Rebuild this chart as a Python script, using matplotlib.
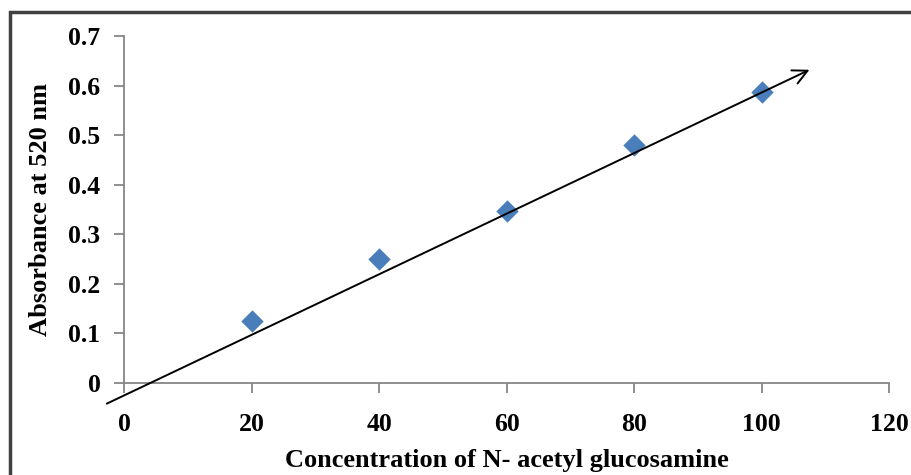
import matplotlib.pyplot as plt
from matplotlib.patches import Rectangle

# N-acetyl glucosamine standard curve
concentration = [20, 40, 60, 80, 100]
absorbance = [0.125, 0.25, 0.346, 0.481, 0.588]

# hand-drawn trend arrow (start, end) in data units
trend_x = [-2.7, 107.5]
trend_y = [-0.042, 0.632]

x_ticks = [0, 20, 40, 60, 80, 100, 120]
y_ticks = [0, 0.1, 0.2, 0.3, 0.4, 0.5, 0.6, 0.7]
y_tick_labels = ["0", "0.1", "0.2", "0.3", "0.4", "0.5", "0.6", "0.7"]

plt.rcParams["font.family"] = ["Liberation Serif", "DejaVu Serif"]
plt.rcParams["font.weight"] = "bold"

fig = plt.figure(figsize=(9.12, 4.75), dpi=100)
ax = fig.add_axes([0.136, 0.194, 0.839, 0.730])

ax.scatter(concentration, absorbance, marker="D", s=130, color="#4a7ebb",
           zorder=3, linewidths=0)

ax.annotate("", xy=(trend_x[1], trend_y[1]), xytext=(trend_x[0], trend_y[0]),
            arrowprops=dict(arrowstyle="->", color="black", lw=1.4,
                            mutation_scale=26, shrinkA=0, shrinkB=0),
            annotation_clip=False, zorder=4)

ax.set_xlim(0, 120)
ax.set_ylim(0, 0.7)
ax.set_xticks(x_ticks)
ax.set_yticks(y_ticks)
ax.set_yticklabels(y_tick_labels)

for side in ["top", "right"]:
    ax.spines[side].set_visible(False)
for side in ["left", "bottom"]:
    ax.spines[side].set_color("#868686")
    ax.spines[side].set_linewidth(1.3)

ax.tick_params(axis="both", direction="out", length=7, width=1.3,
               color="#868686", labelsize=18.5)
ax.tick_params(axis="x", pad=15)
ax.tick_params(axis="y", pad=10)

ax.set_xlabel("Concentration of N- acetyl glucosamine", fontsize=19,
              fontweight="bold", labelpad=9)
ax.set_ylabel("Absorbance at 520 nm", fontsize=19, fontweight="bold",
              labelpad=12)

# outer chart frame
fig.patches.append(Rectangle((0.011, -0.05), 1.05, 1.024,
                             transform=fig.transFigure, fill=False,
                             edgecolor="#404040", linewidth=2.5))

fig.savefig("out.png", dpi=100)
